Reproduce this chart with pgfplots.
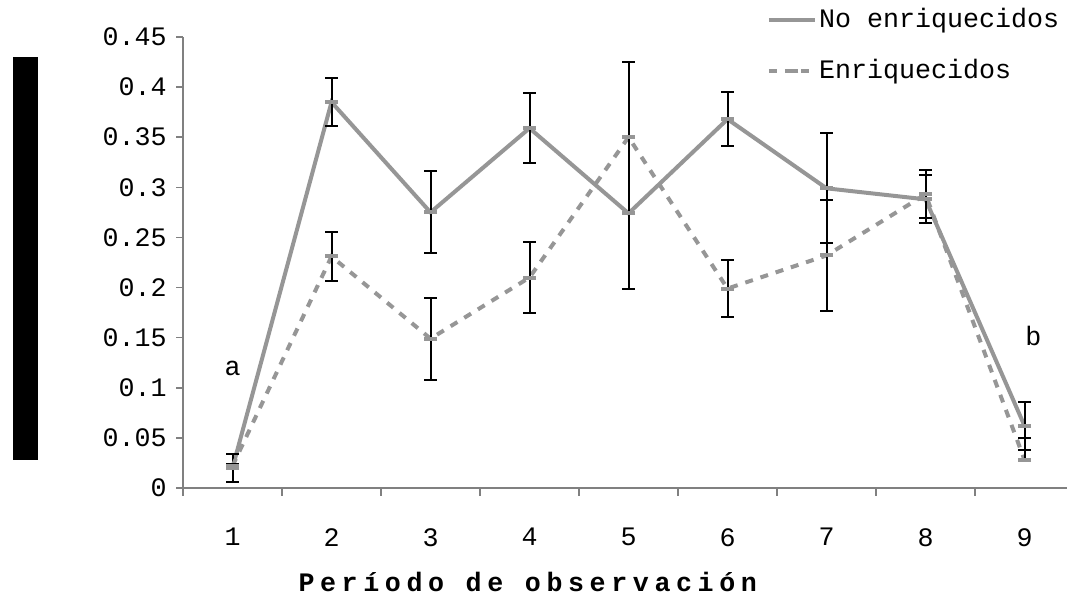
\documentclass[border=0pt]{standalone}
\usepackage{fontspec}
\setmainfont{Liberation Mono}
\newfontfamily\xlabfont[LetterSpace=21]{Liberation Mono}
\usepackage{pgfplots}
\usepackage{pgfplotstable}
\pgfplotsset{compat=1.18}
\definecolor{ln}{RGB}{150,150,150}
\definecolor{axc}{RGB}{128,128,128}

\pgfplotstableread{
x y ep em
1 0.020 0.014 0.014
2 0.385 0.024 0.024
3 0.275 0.041 0.041
4 0.359 0.035 0.035
5 0.274 0.075 0.075
6 0.368 0.027 0.027
7 0.299 0.055 0.055
8 0.288 0.024 0.024
9 0.062 0.024 0.024
}\noenr
\pgfplotstableread{
x y ep em
1 0.022 0.002 0.002
2 0.231 0.024 0.024
3 0.149 0.041 0.041
4 0.210 0.035 0.035
5 0.350 0.075 0.075
6 0.199 0.028 0.028
7 0.232 0.055 0.055
8 0.293 0.024 0.024
9 0.028 0.022 0.000
}\enr

\begin{document}
\begin{tikzpicture}
\begin{axis}[
  name=ax,
  scale only axis,
  clip=false,
  width=331.5pt, height=169.125pt,
  xmin=0.5, xmax=9.429, ymin=0, ymax=0.45,
  axis x line*=bottom, axis y line*=left,
  axis line style={axc, line width=0.6pt, -},
  tick align=outside,
  xtick={1,2,3,4,5,6,7,8,9},
  xticklabels={1,2,3,4,5,6,7,8,9},
  major x tick style={draw=none},
  minor xtick={0.5,1.5,2.5,3.5,4.5,5.5,6.5,7.5,8.5},
  minor x tick style={axc, line width=0.6pt},
  minor tick length=3pt,
  ytick={0,0.05,0.1,0.15,0.2,0.25,0.3,0.35,0.4,0.45},
  yticklabels={0,0.05,0.1,0.15,0.2,0.25,0.3,0.35,0.4,0.45},
  major y tick style={axc, line width=0.6pt},
  major tick length=2.6pt,
  ticklabel style={font=\fontsize{10}{12}\selectfont, black},
  xticklabel style={yshift=-9pt},
  xlabel={\xlabfont\bfseries Período de observación},
  xlabel style={at={(axis description cs:0.39,0)}, anchor=center, yshift=-35.25pt, font=\fontsize{10}{12}\selectfont},
  legend style={at={(axis description cs:0.66,1.07)}, anchor=north west, draw=none, fill=none,
    font=\fontsize{10}{12}\selectfont, row sep=8.3pt, inner sep=0pt,
    nodes={inner sep=1pt}},
  legend cell align=left,
  error bars/error bar style={black, line width=0.75pt, solid},
  error bars/error mark options={rotate=90, mark size=2.4pt, black, line width=0.75pt, solid},
]
\addplot[color=ln, line width=1.5pt, mark=-, mark size=2.5pt, mark options={solid},
  error bars/.cd, y dir=both, y explicit]
  table[x=x, y=y, y error plus=ep, y error minus=em] {\noenr};
\addlegendentry{No enriquecidos}
\addplot[color=ln, line width=1.5pt, dash pattern=on 3pt off 3pt, mark=-, mark size=2.5pt, mark options={solid},
  error bars/.cd, y dir=both, y explicit]
  table[x=x, y=y, y error plus=ep, y error minus=em] {\enr};
\addlegendentry{Enriquecidos}
\node[font=\fontsize{10}{12}\selectfont] at (axis cs:1,0.1188) {a};
\node[font=\fontsize{10}{12}\selectfont] at (axis cs:9.09,0.1517) {b};
\fill[black] (axis description cs:-0.1923,0.0621) rectangle (axis description cs:-0.164,0.9557);
\end{axis}
\pgfresetboundingbox
\path ([shift={(-68.625pt,-43.875pt)}]ax.south west) rectangle ([shift={(0pt,13.875pt)}]ax.north east);
\end{tikzpicture}
\end{document}
